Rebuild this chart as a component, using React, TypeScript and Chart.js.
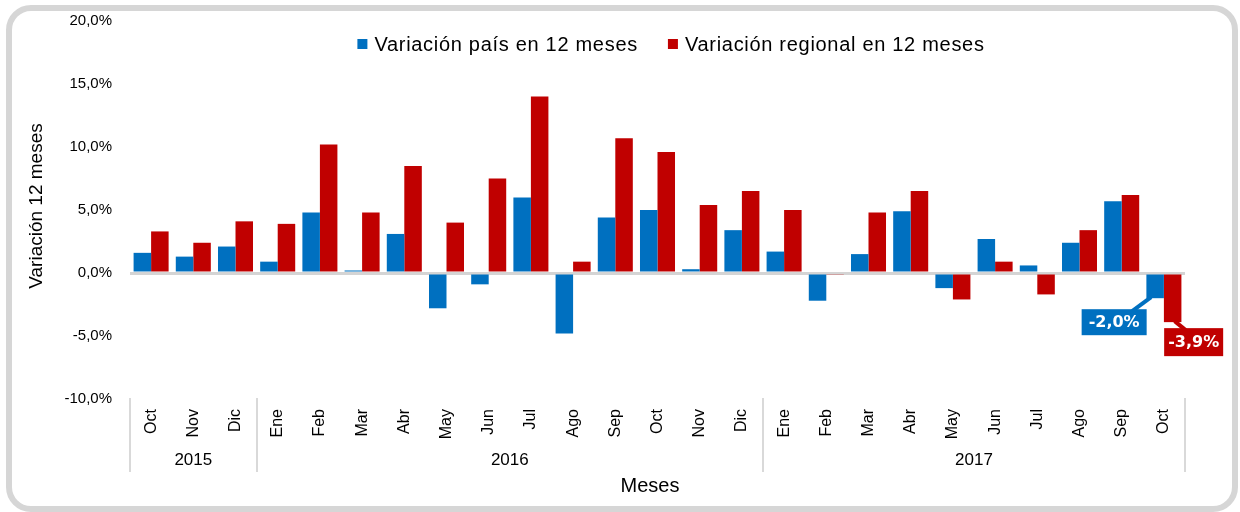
import React, { useEffect, useRef } from "react";
import { Chart, registerables } from "chart.js";

Chart.register(...registerables);

const months = ["Oct", "Nov", "Dic", "Ene", "Feb", "Mar", "Abr", "May", "Jun", "Jul", "Ago", "Sep", "Oct", "Nov", "Dic", "Ene", "Feb", "Mar", "Abr", "May", "Jun", "Jul", "Ago", "Sep", "Oct"];
const yearLabels = ["2015", "2016", "2017"];
const yearCounts = [3, 12, 10];
const paisValues = [1.6, 1.3, 2.1, 0.9, 4.8, 0.2, 3.1, -2.8, -0.9, 6.0, -4.8, 4.4, 5.0, 0.3, 3.4, 1.7, -2.2, 1.5, 4.9, -1.2, 2.7, 0.6, 2.4, 5.7, -2.0];
const regionalValues = [3.3, 2.4, 4.1, 3.9, 10.2, 4.8, 8.5, 4.0, 7.5, 14.0, 0.9, 10.7, 9.6, 5.4, 6.5, 5.0, -0.1, 4.8, 6.5, -2.1, 0.9, -1.7, 3.4, 6.2, -3.9];
const seriesNames = ["Variación país en 12 meses", "Variación regional en 12 meses"];
const seriesColors = ["#0070C0", "#C00000"];
const yMin = -10;
const yMax = 20;
const yStep = 5;
const yTitle = "Variación 12 meses";
const xTitle = "Meses";

const fmt = (v: number) => v.toFixed(1).replace(".", ",") + "%";
const FONT = "'Liberation Sans', Arial, sans-serif";

const decorPlugin = {
  id: "decor",
  beforeDraw(chart: any) {
    const ctx = chart.ctx;
    ctx.save();
    ctx.fillStyle = "#ffffff";
    ctx.fillRect(0, 0, chart.width, chart.height);
    ctx.strokeStyle = "#d6d6d6";
    ctx.lineWidth = 6;
    ctx.beginPath();
    ctx.roundRect(9, 8, 1226, 501, 22);
    ctx.stroke();
    ctx.restore();
  },
  afterDraw(chart: any) {
    const ctx = chart.ctx;
    const xs = chart.scales.x;
    const area = chart.chartArea;
    ctx.save();

    // group separators & year labels
    const boundary = (i: number) => {
      if (i <= 0) return area.left;
      if (i >= months.length) return area.right;
      return (xs.getPixelForValue(i - 1) + xs.getPixelForValue(i)) / 2;
    };
    ctx.strokeStyle = "#d9d9d9";
    ctx.lineWidth = 2;
    let idx = 0;
    const bounds = [0];
    yearCounts.forEach((c) => {
      idx += c;
      bounds.push(idx);
    });
    bounds.forEach((b) => {
      const x = Math.round(boundary(b));
      ctx.beginPath();
      ctx.moveTo(x, area.bottom - 1);
      ctx.lineTo(x, area.bottom + 73);
      ctx.stroke();
    });
    ctx.fillStyle = "#000";
    ctx.font = `17px ${FONT}`;
    ctx.textAlign = "center";
    ctx.textBaseline = "middle";
    yearLabels.forEach((label, i) => {
      const x = (boundary(bounds[i]) + boundary(bounds[i + 1])) / 2;
      ctx.fillText(label, x, area.bottom + 61);
    });

    // axis titles
    ctx.font = `20px ${FONT}`;
    ctx.fillText(xTitle, 650, area.bottom + 87);
    ctx.save();
    ctx.translate(37, 206);
    ctx.rotate(-Math.PI / 2);
    ctx.font = `19px ${FONT}`;
    ctx.fillText(yTitle, 0, 0);
    ctx.restore();

    // legend
    ctx.font = `20px ${FONT}`;
    try {
      ctx.letterSpacing = "0.7px";
    } catch (e) {}
    ctx.textAlign = "left";
    const box = 10;
    const gapBoxText = 7;
    const gapItems = 30;
    const widths = seriesNames.map((n) => ctx.measureText(n).width);
    const total = widths.reduce((a, w) => a + box + gapBoxText + w, 0) + gapItems;
    let lx = 671 - total / 2;
    const ly = 44;
    seriesNames.forEach((n, i) => {
      ctx.fillStyle = seriesColors[i];
      ctx.fillRect(lx, ly - box / 2, box, box);
      ctx.fillStyle = "#000";
      ctx.fillText(n, lx + box + gapBoxText, ly + 1);
      lx += box + gapBoxText + widths[i] + gapItems;
    });
    try {
      ctx.letterSpacing = "0px";
    } catch (e) {}

    // data callouts for last values
    const last = months.length - 1;
    const offsets = [
      { dx: -41, dy: 11, lineDx: 18 },
      { dx: 21, dy: 6, lineDx: -8 },
    ];
    [paisValues, regionalValues].forEach((vals, di) => {
      const el = chart.getDatasetMeta(di).data[last];
      const text = fmt(vals[last]);
      ctx.font = `bold 16px 'DejaVu Sans', Verdana, sans-serif`;
      const tw = ctx.measureText(text).width;
      const bw = tw + (di === 0 ? 14 : 8);
      const bh = di === 0 ? 26 : 28;
      const cx = el.x + offsets[di].dx;
      const top = el.y + offsets[di].dy;
      ctx.strokeStyle = seriesColors[di];
      ctx.lineWidth = 4;
      ctx.beginPath();
      ctx.moveTo(el.x + (di === 0 ? -4 : 2), el.y - 1);
      ctx.lineTo(cx + offsets[di].lineDx, top + 2);
      ctx.stroke();
      ctx.fillStyle = seriesColors[di];
      ctx.fillRect(cx - bw / 2, top, bw, bh);
      ctx.fillStyle = "#fff";
      ctx.textAlign = "center";
      ctx.textBaseline = "middle";
      ctx.fillText(text, cx, top + bh / 2 + 1);
    });

    ctx.restore();
  },
};

export default function App() {
  const ref = useRef<HTMLCanvasElement | null>(null);
  useEffect(() => {
    document.body.style.margin = "0";
    if (!ref.current) return;
    const chart = new Chart(ref.current, {
      type: "bar",
      data: {
        labels: months,
        datasets: [
          { label: seriesNames[0], data: paisValues, backgroundColor: seriesColors[0], categoryPercentage: 0.83, barPercentage: 1.0 },
          { label: seriesNames[1], data: regionalValues, backgroundColor: seriesColors[1], categoryPercentage: 0.83, barPercentage: 1.0 },
        ],
      },
      options: {
        responsive: false,
        animation: false,
        layout: { padding: { top: 21, right: 55, bottom: 0, left: 0 } },
        plugins: { legend: { display: false }, tooltip: { enabled: false } },
        scales: {
          x: {
            grid: { display: false },
            border: { display: false },
            ticks: {
              minRotation: 90,
              maxRotation: 90,
              autoSkip: false,
              padding: 2,
              color: "#000",
              font: { family: FONT, size: 16 },
            },
            afterFit: (s: any) => {
              s.height = 113;
            },
          },
          y: {
            min: yMin,
            max: yMax,
            border: { display: false },
            grid: {
              drawTicks: false,
              color: (c: any) => (c.tick && c.tick.value === 0 ? "#d4d4d4" : "rgba(0,0,0,0)"),
              lineWidth: (c: any) => (c.tick && c.tick.value === 0 ? 3 : 0),
            },
            ticks: {
              stepSize: yStep,
              padding: 18,
              color: "#000",
              font: { family: FONT, size: 15 },
              callback: (v: any) => fmt(Number(v)),
            },
            afterFit: (s: any) => {
              s.width = 130;
              s.paddingTop = 0;
              s.paddingBottom = 0;
            },
          },
        },
      },
      plugins: [decorPlugin],
    });
    return () => chart.destroy();
  }, []);
  return (
    <div style={{ width: 1240, height: 512 }}>
      <canvas ref={ref} width={1240} height={512} style={{ display: "block" }} />
    </div>
  );
}
